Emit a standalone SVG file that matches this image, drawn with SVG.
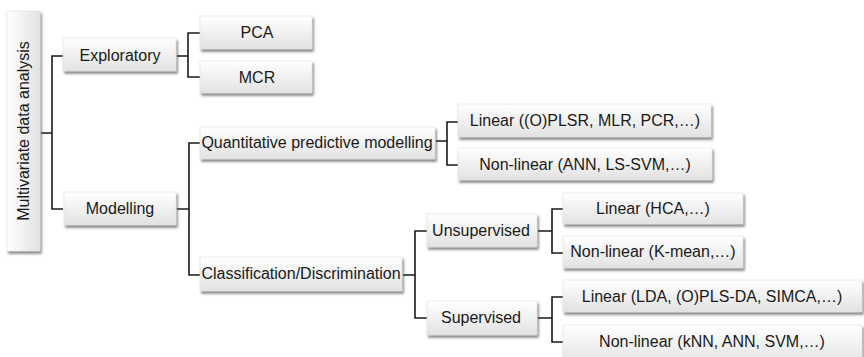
<svg xmlns="http://www.w3.org/2000/svg" width="864" height="357" viewBox="0 0 864 357">
<defs>
<linearGradient id="g" x1="0" y1="0" x2="0" y2="1">
<stop offset="0" stop-color="#ffffff"/>
<stop offset="1" stop-color="#e2e2e2"/>
</linearGradient>
<linearGradient id="gh" x1="0" y1="0" x2="1" y2="0">
<stop offset="0" stop-color="#ffffff"/>
<stop offset="1" stop-color="#e2e2e2"/>
</linearGradient>
<filter id="sh" x="-10%" y="-20%" width="130%" height="160%">
<feDropShadow dx="1.5" dy="2.5" stdDeviation="1.3" flood-color="#444" flood-opacity="0.65"/>
</filter>
</defs>
<style>
.b{fill:url(#g);stroke:#e0e0e0;stroke-width:0.6;filter:url(#sh)}
.t{font-family:"Liberation Sans",Arial,sans-serif;font-size:16px;fill:#1a1a1a;text-anchor:middle}
.c{fill:none;stroke:#1a1a1a;stroke-width:1.6}
</style>
<rect width="864" height="357" fill="#fff"/>
<g id="connectors">
<path class="c" d="M41 133H52M63 56H52V209H63"/>
<path class="c" d="M177 56H188M200 33H188V77H200"/>
<path class="c" d="M177 209H189M200 143H189V275H200"/>
<path class="c" d="M436 141H447M458 122H447V165H458"/>
<path class="c" d="M403 275H415M427 231H415V318H427"/>
<path class="c" d="M538 231H552M563 209H552V253H563"/>
<path class="c" d="M538 318H552M563 297H552V342H563"/>
</g>
<g id="root"><rect class="b" x="7" y="11" width="33" height="240" style="fill:url(#gh)"/><text class="t" transform="translate(29,131) rotate(-90)">Multivariate data analysis</text></g>
<g id="exploratory"><rect class="b" x="63" y="38" width="113" height="33"/><text class="t" x="120" y="61">Exploratory</text></g>
<g id="modelling"><rect class="b" x="64" y="192" width="112" height="33"/><text class="t" x="120" y="214">Modelling</text></g>
<g id="pca"><rect class="b" x="200" y="16" width="112" height="33"/><text class="t" x="257" y="38">PCA</text></g>
<g id="mcr"><rect class="b" x="200" y="61" width="112" height="32"/><text class="t" x="257" y="83">MCR</text></g>
<g id="quant"><rect class="b" x="200" y="127" width="235" height="32"/><text class="t" x="317" y="148">Quantitative predictive modelling</text></g>
<g id="class"><rect class="b" x="200" y="257" width="202" height="34"/><text class="t" x="301" y="279">Classification/Discrimination</text></g>
<g id="qlin"><rect class="b" x="458" y="104" width="253" height="33"/><text class="t" x="585" y="126">Linear ((O)PLSR, MLR, PCR,…)</text></g>
<g id="qnonlin"><rect class="b" x="458" y="148" width="254" height="32"/><text class="t" x="585" y="170">Non-linear (ANN, LS-SVM,…)</text></g>
<g id="unsup"><rect class="b" x="427" y="214" width="110" height="33"/><text class="t" x="481" y="236">Unsupervised</text></g>
<g id="sup"><rect class="b" x="427" y="301" width="110" height="34"/><text class="t" x="481" y="323">Supervised</text></g>
<g id="ulin"><rect class="b" x="563" y="193" width="180" height="31"/><text class="t" x="653" y="214">Linear (HCA,…)</text></g>
<g id="unonlin"><rect class="b" x="563" y="236" width="180" height="32"/><text class="t" x="653" y="257">Non-linear (K-mean,…)</text></g>
<g id="slin"><rect class="b" x="563" y="280" width="299" height="32"/><text class="t" x="712" y="302">Linear (LDA, (O)PLS-DA, SIMCA,…)</text></g>
<g id="snonlin"><rect class="b" x="563" y="325" width="299" height="40"/><text class="t" x="712" y="347">Non-linear (kNN, ANN, SVM,…)</text></g>
</svg>
